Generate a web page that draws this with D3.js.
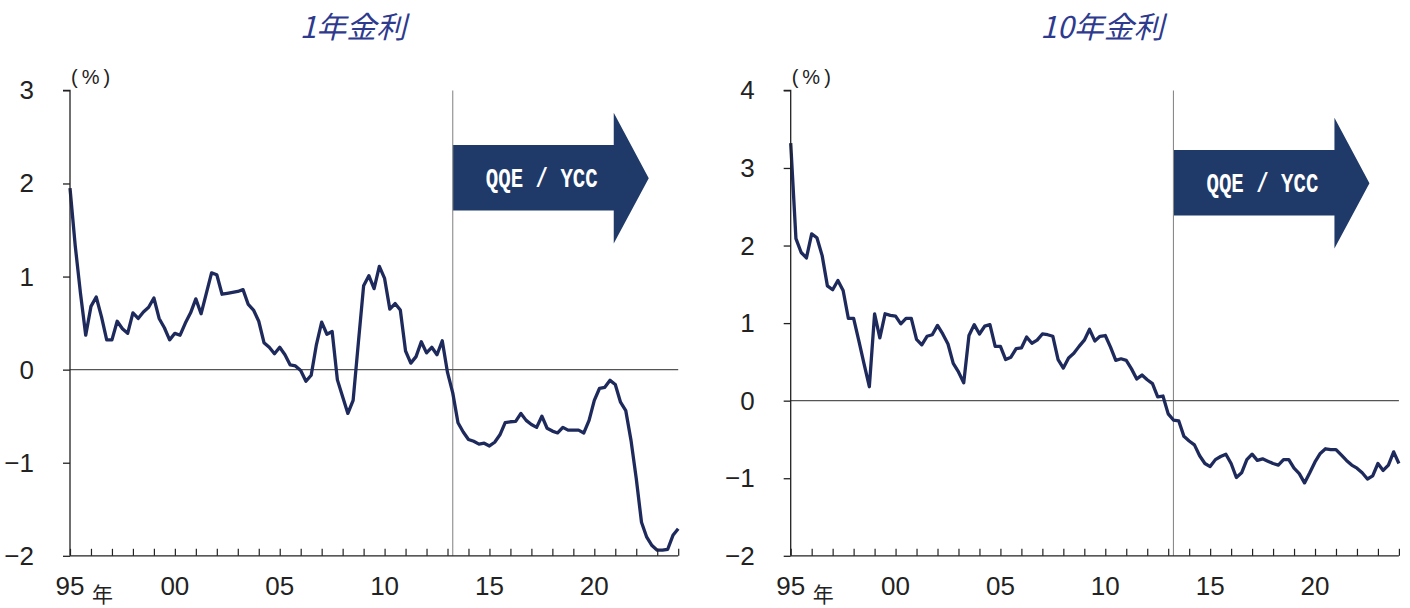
<!DOCTYPE html>
<html lang="ja">
<head>
<meta charset="utf-8">
<script src="https://cdn.jsdelivr.net/npm/d3@7/dist/d3.min.js"></script>
<style>
  html, body { margin: 0; padding: 0; background: #fff; }
  svg { display: block; }
  .num { font-family: "Liberation Sans Narrow", "Arial Narrow", "Liberation Sans", sans-serif; fill: #222; }
  .cjk { font-family: "Noto Sans CJK JP", "Noto Sans", sans-serif; fill: #222; }
</style>
</head>
<body>
<svg id="chart" width="1410" height="608"></svg>
<script>
// Quarterly yields, 1995Q1 - 2024Q1 (%)
const yield1y = [
  1.95, 1.33, 0.82, 0.37, 0.68, 0.78, 0.57, 0.32, 0.32, 0.52,
  0.44, 0.39, 0.61, 0.55, 0.62, 0.67, 0.77, 0.55, 0.45, 0.32,
  0.39, 0.37, 0.50, 0.61, 0.76, 0.60, 0.82, 1.04, 1.02, 0.81,
  0.82, 0.83, 0.84, 0.86, 0.70, 0.64, 0.52, 0.29, 0.24, 0.17,
  0.24, 0.16, 0.05, 0.04, -0.01, -0.125, -0.06, 0.27, 0.51, 0.38,
  0.41, -0.11, -0.29, -0.47, -0.33, 0.29, 0.90, 1.01, 0.87, 1.11,
  0.98, 0.65, 0.71, 0.64, 0.20, 0.07, 0.14, 0.30, 0.18, 0.24,
  0.16, 0.31, -0.03, -0.25, -0.57, -0.67, -0.75, -0.77, -0.80, -0.79,
  -0.82, -0.78, -0.70, -0.57, -0.56, -0.555, -0.47, -0.545, -0.59, -0.62,
  -0.50, -0.63, -0.66, -0.68, -0.62, -0.65, -0.65, -0.65, -0.68, -0.545,
  -0.33, -0.20, -0.19, -0.115, -0.16, -0.35, -0.44, -0.76, -1.17, -1.64,
  -1.80, -1.89, -1.94, -1.94, -1.93, -1.78, -1.71
];
const yield10y = [
  3.32, 2.09, 1.91, 1.84, 2.15, 2.10, 1.87, 1.48, 1.43, 1.55,
  1.42, 1.06, 1.06, 0.77, 0.47, 0.18, 1.12, 0.81, 1.12, 1.10,
  1.09, 0.99, 1.06, 1.06, 0.79, 0.72, 0.83, 0.85, 0.97, 0.86,
  0.73, 0.48, 0.37, 0.23, 0.84, 0.98, 0.86, 0.96, 0.98, 0.70,
  0.70, 0.53, 0.56, 0.67, 0.68, 0.82, 0.74, 0.78, 0.86, 0.85,
  0.83, 0.53, 0.42, 0.55, 0.61, 0.70, 0.78, 0.92, 0.77, 0.83,
  0.84, 0.69, 0.52, 0.54, 0.52, 0.41, 0.28, 0.33, 0.27, 0.22,
  0.05, 0.06, -0.17, -0.25, -0.26, -0.46, -0.52, -0.57, -0.71, -0.81,
  -0.85, -0.76, -0.72, -0.69, -0.81, -0.99, -0.93, -0.76, -0.69, -0.77,
  -0.75, -0.78, -0.81, -0.83, -0.76, -0.76, -0.87, -0.94, -1.06, -0.93,
  -0.79, -0.68, -0.62, -0.63, -0.63, -0.70, -0.77, -0.83, -0.87, -0.93,
  -1.01, -0.97, -0.81, -0.90, -0.83, -0.66, -0.81
];

// Quarter index of each year start (1995 ... 2024) and the labelled years
const yearTicks = d3.range(0, 117, 4);
const yearLabels = ["95", "00", "05", "10", "15", "20"];
const labelIndex = [0, 20, 40, 60, 80, 100];

// QQE start: 2013Q2
const qqeIndex = 73;

const panels = [
  { title: "1年金利",  values: yield1y,  yDomain: [-2, 3], yTicks: [-2, -1, 0, 1, 2, 3],
    left: 70, titleX: 353, arrowDy: 0 },
  { title: "10年金利", values: yield10y, yDomain: [-2, 4], yTicks: [-2, -1, 0, 1, 2, 3, 4],
    left: 790.7, titleX: 1102, arrowDy: 5 }
];

const svg = d3.select("#chart");
const plotW = 608.2, plotTop = 90.4, plotBottom = 555.8;
const lineColor = "#1e2a5c";
const arrowColor = "#1f3a68";
const fmt = v => (v < 0 ? "\u2212" + Math.abs(v) : String(v));

panels.forEach(p => {
  const g = svg.append("g");
  const x = d3.scaleLinear().domain([0, 116]).range([p.left, p.left + plotW]);
  const y = d3.scaleLinear().domain(p.yDomain).range([plotBottom, plotTop]);

  // title
  g.append("text").attr("class", "cjk")
    .attr("x", p.titleX).attr("y", 25)
    .attr("text-anchor", "middle").attr("dominant-baseline", "central")
    .style("font-size", "30px").style("font-style", "italic")
    .style("fill", "#2e3a8e")
    .text(p.title);

  // unit label
  g.append("text")
    .attr("x", p.left + 1).attr("y", 77)
    .attr("dominant-baseline", "central")
    .style("font-family", "'Liberation Sans', Arial, sans-serif")
    .style("font-size", "20px").style("letter-spacing", "4px")
    .style("fill", "#222")
    .text("(%)");

  // QQE / YCC arrow
  const ax0 = x(qqeIndex), dy = p.arrowDy;
  const arrowPts = [
    [ax0, 145 + dy], [ax0 + 161, 145 + dy], [ax0 + 161, 112.7 + dy],
    [ax0 + 196, 178.3 + dy], [ax0 + 161, 243.5 + dy], [ax0 + 161, 210.5 + dy],
    [ax0, 210.5 + dy]
  ];
  g.append("path")
    .attr("d", d3.line()(arrowPts) + "Z")
    .attr("fill", arrowColor);
  g.append("text")
    .attr("x", ax0 + 89).attr("y", 180 + dy)
    .attr("text-anchor", "middle").attr("dominant-baseline", "central")
    .attr("textLength", 112).attr("lengthAdjust", "spacingAndGlyphs")
    .style("font-family", "'Liberation Mono', 'DejaVu Sans Mono', monospace")
    .style("font-weight", "bold").style("font-size", "27px")
    .style("fill", "#fff")
    .text("QQE / YCC");

  // QQE start marker
  g.append("line")
    .attr("x1", ax0).attr("x2", ax0).attr("y1", plotTop).attr("y2", plotBottom)
    .attr("stroke", "#8a8a8a").attr("stroke-width", 1.1);

  // zero line
  g.append("line")
    .attr("x1", p.left).attr("x2", p.left + plotW)
    .attr("y1", y(0)).attr("y2", y(0))
    .attr("stroke", "#555").attr("stroke-width", 1.2);

  // series
  g.append("path")
    .datum(p.values)
    .attr("fill", "none")
    .attr("stroke", lineColor)
    .attr("stroke-width", 3.3)
    .attr("stroke-linejoin", "round")
    .attr("d", d3.line().x((d, i) => x(i)).y(d => y(d)));

  // y axis
  const yAxis = d3.axisLeft(y).tickValues(p.yTicks).tickSize(7).tickFormat("");
  const ya = g.append("g").attr("transform", `translate(${p.left},0)`).call(yAxis);
  ya.select(".domain").attr("stroke", "#222").attr("stroke-width", 1.3).attr("d", `M-7,${plotTop}H0V${plotBottom}`);
  ya.selectAll(".tick line").attr("stroke", "#222").attr("stroke-width", 1.3);
  g.selectAll(".ylab").data(p.yTicks).join("text")
    .attr("class", "num")
    .attr("x", p.left - 36).attr("y", d => y(d))
    .attr("text-anchor", "end").attr("dominant-baseline", "central")
    .style("font-size", "26px")
    .text(fmt);

  // x axis with inward ticks
  const xAxis = d3.axisTop(x).tickValues(yearTicks).tickSize(7).tickFormat("");
  const xa = g.append("g").attr("transform", `translate(0,${plotBottom})`).call(xAxis);
  xa.select(".domain").attr("stroke", "#222").attr("stroke-width", 1.3)
    .attr("d", `M${p.left},0H${p.left + plotW}`);
  xa.selectAll(".tick line").attr("stroke", "#222").attr("stroke-width", 1.2);

  g.selectAll(".xlab").data(labelIndex).join("text")
    .attr("class", "num")
    .attr("x", d => x(d)).attr("y", 586)
    .attr("text-anchor", "middle").attr("dominant-baseline", "central")
    .style("font-size", "26px")
    .text((d, i) => yearLabels[i]);
  g.append("text").attr("class", "cjk")
    .attr("x", p.left + 32.5).attr("y", 592.5)
    .attr("text-anchor", "middle").attr("dominant-baseline", "central")
    .style("font-size", "21px")
    .text("年");
});
</script>
</body>
</html>
